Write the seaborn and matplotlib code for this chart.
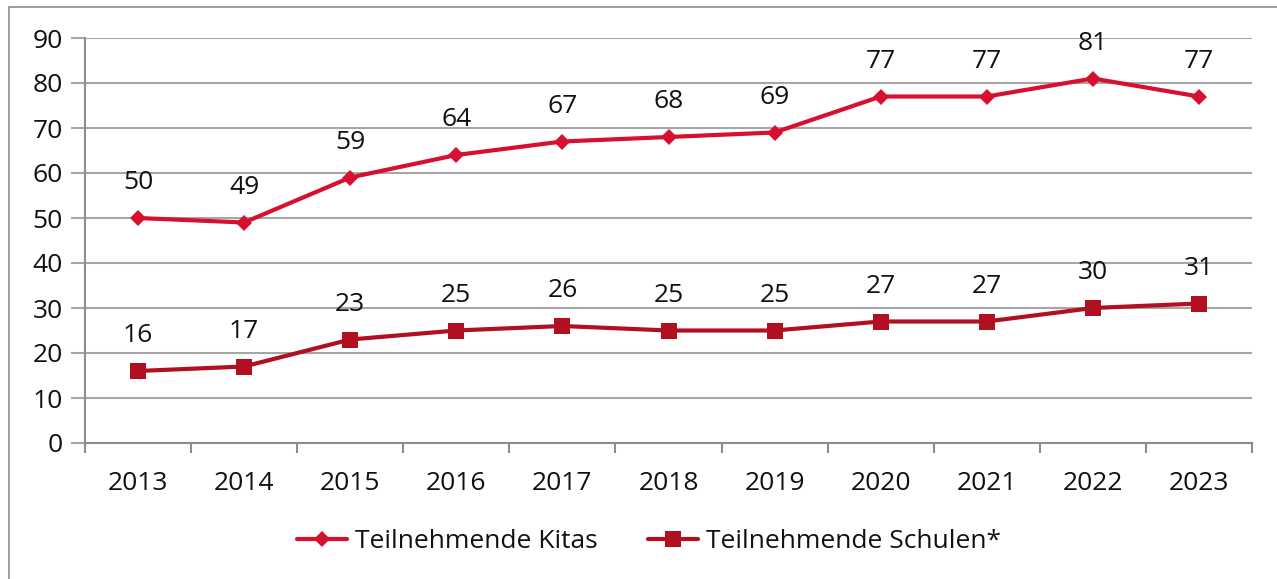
import matplotlib
matplotlib.use("Agg")
import matplotlib.pyplot as plt
import seaborn as sns
import pandas as pd
from matplotlib.patches import Rectangle
from matplotlib.lines import Line2D

years = ["2013", "2014", "2015", "2016", "2017", "2018", "2019", "2020", "2021", "2022", "2023"]
kitas = [50, 49, 59, 64, 67, 68, 69, 77, 77, 81, 77]
schulen = [16, 17, 23, 25, 26, 25, 25, 27, 27, 30, 31]
series_names = ["Teilnehmende Kitas", "Teilnehmende Schulen*"]
colors = ["#D7102F", "#B01020"]

sns.set_theme(style="white")
plt.rcParams['font.family'] = ['Open Sans', 'DejaVu Sans']
FS = 19

idx = list(range(len(years)))
df = pd.DataFrame({
    "x": idx * 2,
    "value": kitas + schulen,
    "series": [series_names[0]] * len(years) + [series_names[1]] * len(years),
})

fig = plt.figure(figsize=(12.77, 5.79), dpi=100)
ax = fig.add_axes([85/1277, 1 - 443/579, (1252 - 85)/1277, (443 - 38)/579])

sns.lineplot(data=df, x="x", y="value", hue="series", style="series",
             palette=colors, markers={series_names[0]: "D", series_names[1]: "s"},
             dashes=False, linewidth=3, ax=ax, legend=False,
             markeredgewidth=0)
ax.lines[0].set_markersize(8)
ax.lines[1].set_markersize(11)

for vals in (kitas, schulen):
    for i, v in enumerate(vals):
        ax.annotate(str(v), (i, v), xytext=(0, 25.5), textcoords="offset points",
                    ha="center", va="center", fontsize=FS, color="#111111")

ax.set_xlim(-0.5, len(years) - 0.5)
ax.set_ylim(0, 90)
ax.set_yticks(range(0, 91, 10))
ax.set_xticks(idx)
ax.set_xticklabels(years)
ax.set_xlabel("")
ax.set_ylabel("")
ax.grid(axis="y", color="#A6A6A6", linewidth=1.5)
ax.set_axisbelow(True)
for s in ("top", "right"):
    ax.spines[s].set_visible(False)
for s in ("left", "bottom"):
    ax.spines[s].set_color("#8C8C8C")
    ax.spines[s].set_linewidth(1.5)

# category boundary ticks on x axis
ax.set_xticks([i - 0.5 for i in range(len(years) + 1)], minor=True)
ax.tick_params(axis="x", which="major", length=0, pad=20, labelsize=FS, labelcolor="#111111")
ax.tick_params(axis="x", which="minor", direction="out", length=7, width=1.5, color="#8C8C8C", bottom=True)
ax.tick_params(axis="y", which="major", direction="out", length=10, width=1.5, color="#A6A6A6",
               labelsize=FS, labelcolor="#111111", pad=6, left=True)

# legend
handles = [Line2D([], [], color=colors[0], marker="D", markersize=8, linewidth=3, markeredgewidth=0),
           Line2D([], [], color=colors[1], marker="s", markersize=11, linewidth=3, markeredgewidth=0)]
fig.legend(handles, series_names, loc="center", bbox_to_anchor=(649/1277, 1 - 542/579),
           ncol=2, frameon=False, fontsize=FS, handlelength=1.9, handletextpad=0.3,
           columnspacing=1.9, labelcolor="#111111")

# chart area border
fig.patches.append(Rectangle((9/1277, -0.05), 1.2, 1 - 7/579 + 0.05, transform=fig.transFigure,
                             fill=False, edgecolor="#8C8C8C", linewidth=1.2, zorder=-1))

fig.savefig("out.png", dpi=100)
